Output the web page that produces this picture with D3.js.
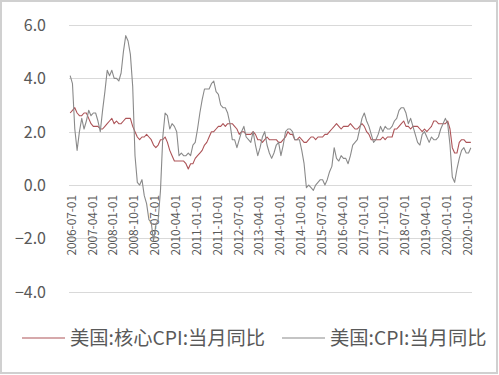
<!DOCTYPE html>
<html lang="zh">
<head>
  <meta charset="utf-8">
  <title>美国CPI当月同比</title>
  <script src="https://d3js.org/d3.v7.min.js"></script>
  <style>
    body { margin: 0; background: #fff; }
    svg { display: block; font-family: "Noto Sans CJK SC", "Noto Sans", sans-serif; }
    .grid line { stroke: #d9d9d9; stroke-width: 1; }
    .ylab { fill: #595959; font-size: 16px; text-anchor: end; }
    .xlab { fill: #595959; font-size: 11.8px; text-anchor: end; }
    .leg { fill: #595959; font-size: 19.3px; }
  </style>
</head>
<body>
<div id="chart"></div>
<script>
  // monthly, 2006-07 .. 2020-12
  var startYear = 2006, startMonth = 7;

  var coreCpi = [
    2.7, 2.8, 2.9, 2.7, 2.6, 2.6,
    2.7, 2.7, 2.5, 2.3, 2.2, 2.2, 2.2, 2.1, 2.1, 2.2, 2.3, 2.4,
    2.5, 2.3, 2.4, 2.3, 2.3, 2.4, 2.5, 2.5, 2.5, 2.2, 2.0, 1.8,
    1.7, 1.8, 1.8, 1.9, 1.8, 1.7, 1.5, 1.4, 1.5, 1.7, 1.7, 1.8,
    1.6, 1.3, 1.1, 0.9, 0.9, 0.9, 0.9, 0.9, 0.8, 0.6, 0.8, 0.8,
    1.0, 1.1, 1.2, 1.3, 1.5, 1.6, 1.8, 2.0, 2.0, 2.1, 2.2, 2.2,
    2.3, 2.2, 2.3, 2.3, 2.3, 2.2, 2.1, 1.9, 2.0, 2.0, 1.9, 1.9,
    1.9, 2.0, 1.9, 1.7, 1.7, 1.6, 1.7, 1.8, 1.7, 1.7, 1.7, 1.7,
    1.6, 1.6, 1.7, 1.8, 2.0, 1.9, 1.9, 1.7, 1.7, 1.8, 1.7, 1.6,
    1.6, 1.7, 1.8, 1.8, 1.7, 1.8, 1.8, 1.8, 1.9, 1.9, 2.0, 2.1,
    2.2, 2.3, 2.2, 2.1, 2.2, 2.2, 2.2, 2.3, 2.2, 2.1, 2.1, 2.2,
    2.3, 2.2, 2.0, 1.9, 1.7, 1.7, 1.7, 1.7, 1.7, 1.8, 1.7, 1.8,
    1.8, 1.8, 2.1, 2.1, 2.2, 2.3, 2.4, 2.2, 2.2, 2.1, 2.2, 2.2,
    2.2, 2.1, 2.0, 2.1, 2.0, 2.1, 2.2, 2.4, 2.4, 2.3, 2.3, 2.3,
    2.3, 2.4, 2.1, 1.4, 1.2, 1.2, 1.6, 1.7, 1.7, 1.6, 1.6, 1.6
  ];

  var cpi = [
    4.1, 3.8, 2.1, 1.3, 2.0, 2.5,
    2.1, 2.4, 2.8, 2.6, 2.7, 2.7, 2.4, 2.0, 2.8, 3.5, 4.3, 4.1,
    4.3, 4.0, 4.0, 3.9, 4.2, 5.0, 5.6, 5.4, 4.9, 3.7, 1.1, 0.1,
    0.0, 0.2, -0.4, -0.7, -1.3, -1.4, -2.1, -1.5, -1.3, -0.2, 1.8, 2.7,
    2.6, 2.1, 2.3, 2.2, 2.0, 1.1, 1.2, 1.1, 1.1, 1.2, 1.1, 1.5,
    1.6, 2.1, 2.7, 3.2, 3.6, 3.6, 3.6, 3.8, 3.9, 3.5, 3.4, 3.0,
    2.9, 2.9, 2.7, 2.3, 1.7, 1.7, 1.4, 1.7, 2.0, 2.2, 1.8, 1.7,
    1.6, 2.0, 1.5, 1.1, 1.4, 1.8, 2.0, 1.5, 1.2, 1.0, 1.2, 1.5,
    1.6, 1.1, 1.5, 2.0, 2.1, 2.1, 2.0, 1.7, 1.7, 1.7, 1.3, 0.8,
    -0.1, 0.0, -0.1, -0.2, 0.0, 0.1, 0.2, 0.2, 0.0, 0.2, 0.5, 0.7,
    1.4, 1.0, 0.9, 1.1, 1.0, 1.0, 0.8, 1.1, 1.5, 1.6, 1.7, 2.1,
    2.5, 2.7, 2.4, 2.2, 1.9, 1.6, 1.7, 1.9, 2.2, 2.0, 2.2, 2.1,
    2.1, 2.2, 2.4, 2.5, 2.8, 2.9, 2.9, 2.7, 2.3, 2.5, 2.2, 1.9,
    1.6, 1.5, 1.9, 2.0, 1.8, 1.6, 1.8, 1.7, 1.7, 1.8, 2.1, 2.3,
    2.5, 2.3, 1.5, 0.3, 0.1, 0.6, 1.0, 1.3, 1.4, 1.2, 1.2, 1.4
  ];

  var yTicks = [6, 4, 2, 0, -2, -4];
  var seriesNames = ["美国:核心CPI:当月同比", "美国:CPI:当月同比"];
  var seriesColors = ["#ad5458", "#8a8a8a"];

  function pad(n) { return n < 10 ? "0" + n : "" + n; }
  var dates = cpi.map(function(d, i) {
    var m = startMonth - 1 + i;
    return (startYear + Math.floor(m / 12)) + "-" + pad(m % 12 + 1) + "-01";
  });

  var width = 499, height = 375;

  var svg = d3.select("#chart")
    .append("svg")
      .attr("width", width)
      .attr("height", height);

  // outer frame
  svg.append("rect")
    .attr("x", 1).attr("y", 1)
    .attr("width", width - 3).attr("height", height - 3)
    .attr("fill", "#fff")
    .attr("stroke", "#d0d0d0")
    .attr("stroke-width", 2);

  var x = d3.scalePoint()
    .domain(d3.range(cpi.length))
    .range([69, 472])
    .padding(0.5);

  var y = d3.scaleLinear()
    .domain([-4, 6])
    .range([291.7, 25]);

  svg.append("g")
    .attr("class", "grid")
    .selectAll("line")
    .data(yTicks)
    .enter()
    .append("line")
      .attr("x1", 69).attr("x2", 472)
      .attr("y1", function(d) { return Math.round(y(d)) + 0.5; })
      .attr("y2", function(d) { return Math.round(y(d)) + 0.5; });

  svg.selectAll(".ylab")
    .data(yTicks)
    .enter()
    .append("text")
      .attr("class", "ylab")
      .attr("x", 46)
      .attr("y", function(d) { return y(d) + 6; })
      .text(function(d) { return d3.format(".1f")(d); });

  // category labels every 9 months, hanging below the zero line
  var labelIdx = d3.range(0, cpi.length, 9);
  svg.selectAll(".xlab")
    .data(labelIdx)
    .enter()
    .append("text")
      .attr("class", "xlab")
      .attr("transform", function(i) {
        return "translate(" + (x(i) + 1.5) + "," + (y(0) + 10) + ") rotate(-90)";
      })
      .attr("dy", "0.35em")
      .text(function(i) { return dates[i]; });

  var line = d3.line()
    .x(function(d, i) { return x(i); })
    .y(function(d) { return y(d); });

  [coreCpi, cpi].forEach(function(s, k) {
    svg.append("path")
      .datum(s)
      .attr("fill", "none")
      .attr("stroke", seriesColors[k])
      .attr("stroke-width", 1.1)
      .attr("stroke-linejoin", "round")
      .attr("d", line);
  });

  // legend
  var legX = [22, 282];
  seriesNames.forEach(function(name, k) {
    svg.append("line")
      .attr("x1", legX[k]).attr("x2", legX[k] + 43)
      .attr("y1", 338).attr("y2", 338)
      .attr("stroke", seriesColors[k])
      .attr("stroke-width", 1.2);
    svg.append("text")
      .attr("class", "leg")
      .attr("x", legX[k] + 48)
      .attr("y", 345)
      .text(name);
  });
</script>
</body>
</html>
